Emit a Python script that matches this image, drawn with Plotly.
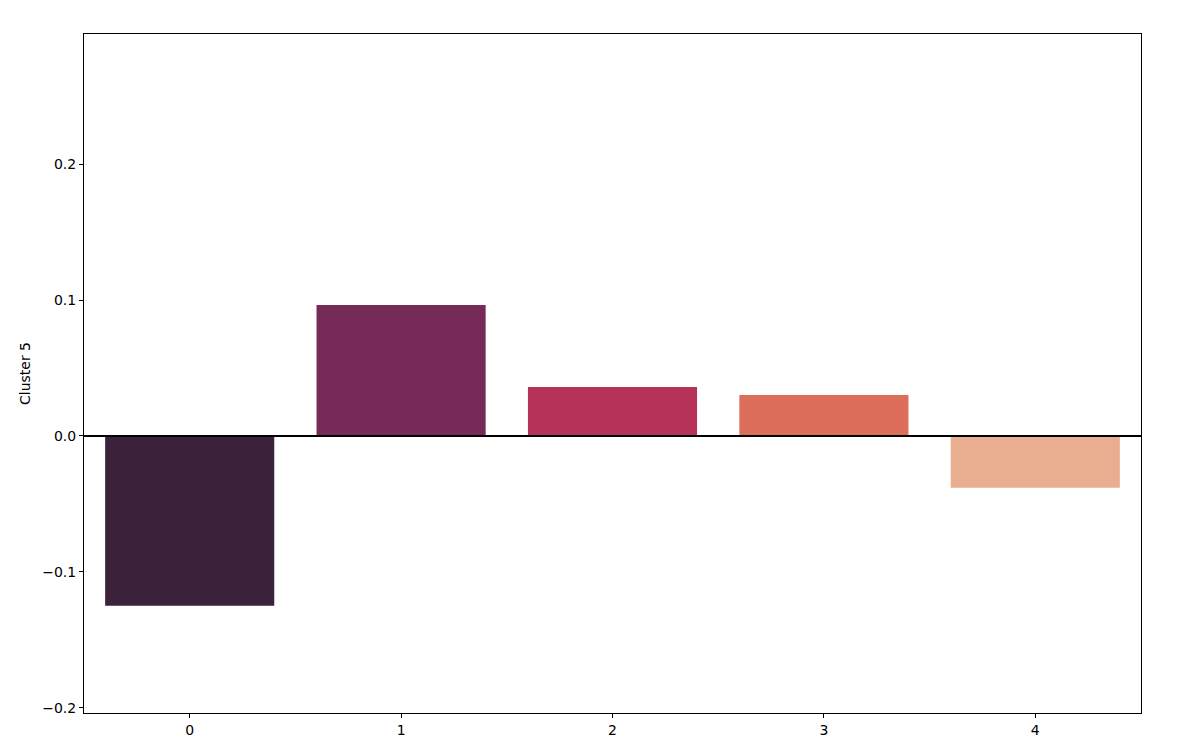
import plotly.graph_objects as go

categories = ["0", "1", "2", "3", "4"]
values = [-0.1248, 0.0963, 0.036, 0.0301, -0.038]
colors = ["#3b2139", "#752a58", "#b63258", "#dc6e5b", "#e9ae90"]
y_ticks = [-0.2, -0.1, 0.0, 0.1, 0.2]
y_tick_text = ["\u22120.2", "\u22120.1", "0.0", "0.1", "0.2"]

fig = go.Figure()
fig.add_trace(go.Bar(
    x=list(range(len(categories))), y=values, marker_color=colors,
    marker_line_width=0, width=0.8, showlegend=False,
))
fig.add_hline(y=0, line_color="black", line_width=2)

fig.update_layout(
    width=1180, height=750,
    margin=dict(l=76, r=47, t=26, b=45),
    plot_bgcolor="white", paper_bgcolor="white",
    font=dict(family="DejaVu Sans", size=14, color="black"),
)
fig.update_xaxes(
    range=[-0.5, 4.5], tickmode="array", tickvals=list(range(len(categories))),
    ticktext=categories, showgrid=False, zeroline=False,
    showline=True, linecolor="black", linewidth=1, mirror=True,
    ticks="outside", ticklen=4, tickcolor="black",
    tickfont=dict(size=14),
)
fig.update_yaxes(
    range=[-0.2037, 0.2956], tickmode="array", tickvals=y_ticks,
    ticktext=y_tick_text, showgrid=False, zeroline=False,
    showline=True, linecolor="black", linewidth=1, mirror=True,
    ticks="outside", ticklen=4, tickcolor="black",
    tickfont=dict(size=14),
    title=dict(text="Cluster 5", standoff=8, font=dict(size=14)),
)
fig.write_html("out.html")
